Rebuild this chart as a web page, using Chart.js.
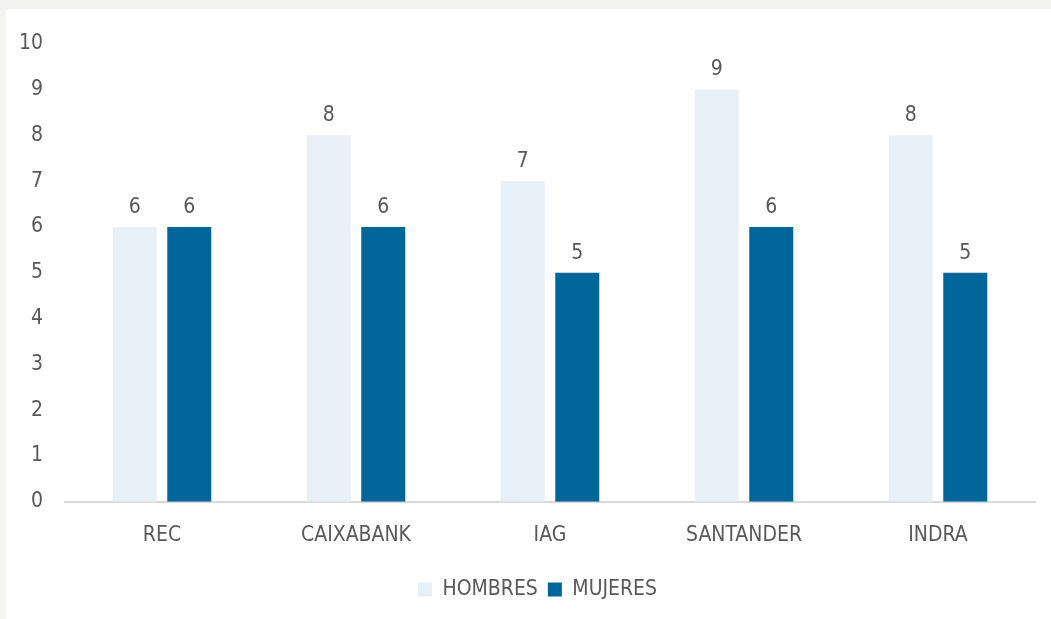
<!DOCTYPE html>
<html lang="es">
<head>
    <meta charset="UTF-8">
    <title>Hombres y mujeres</title>
    <script src="https://cdn.jsdelivr.net/npm/chart.js@4.4.1/dist/chart.umd.min.js"></script>
    <style>
        body {
            margin: 0;
            background-color: #f3f4f0;
            width: 1051px;
            height: 619px;
            overflow: hidden;
        }
        #box {
            position: absolute;
            left: 6px;
            top: 9px;
            width: 1045px;
            height: 610px;
            background-color: #fff;
        }
    </style>
</head>
<body>
<div id="box"><canvas id="myChart" width="1045" height="610"></canvas></div>
<script>
    const categories = ["REC", "CAIXABANK", "IAG", "SANTANDER", "INDRA"];
    const hombres = [6, 8, 7, 9, 8];
    const mujeres = [6, 6, 5, 6, 5];
    const yTicks = [0, 1, 2, 3, 4, 5, 6, 7, 8, 9, 10];

    const fontFamily = "'Liberation Sans Narrow', 'DejaVu Sans Condensed', sans-serif";
    const textColor = '#595959';

    // etiquetas encima de cada barra
    const valueLabels = {
        id: 'valueLabels',
        afterLayout(chart) {
            // la leyenda va un poco a la derecha del centro
            chart.legend.left += 17;
            chart.legend.right += 17;
        },
        afterDatasetsDraw(chart) {
            const ctx = chart.ctx;
            ctx.save();
            ctx.font = '21px ' + fontFamily;
            ctx.fillStyle = textColor;
            ctx.textAlign = 'center';
            ctx.textBaseline = 'bottom';
            chart.data.datasets.forEach((ds, i) => {
                chart.getDatasetMeta(i).data.forEach((bar, j) => {
                    ctx.fillText(ds.data[j], bar.x, bar.y - 9);
                });
            });
            ctx.restore();
        }
    };

    new Chart(document.getElementById('myChart'), {
        type: 'bar',
        data: {
            labels: categories,
            datasets: [
                { label: 'HOMBRES', data: hombres, backgroundColor: '#e8f0f7' },
                { label: 'MUJERES', data: mujeres, backgroundColor: '#006699' }
            ]
        },
        options: {
            responsive: false,
            animation: false,
            devicePixelRatio: 1,
            datasets: {
                bar: { categoryPercentage: 0.562, barPercentage: 0.807 }
            },
            layout: { padding: { top: 31, right: 16, bottom: 9, left: 0 } },
            scales: {
                x: {
                    grid: { display: false, drawTicks: false },
                    border: { color: '#d9d9d9', width: 2 },
                    ticks: { color: textColor, font: { family: fontFamily, size: 21 }, padding: 21 }
                },
                y: {
                    min: 0,
                    max: 10,
                    afterBuildTicks(scale) {
                        scale.ticks = yTicks.map(v => ({ value: v }));
                    },
                    afterFit(scale) { scale.width = 59; },
                    grid: { display: false, drawTicks: false },
                    border: { display: false },
                    ticks: { color: textColor, font: { family: fontFamily, size: 21 }, padding: 22 }
                }
            },
            plugins: {
                legend: {
                    position: 'bottom',
                    labels: {
                        color: textColor,
                        font: { family: fontFamily, size: 21 },
                        boxWidth: 14,
                        boxHeight: 14,
                        padding: 10
                    }
                },
                tooltip: { enabled: false }
            }
        },
        plugins: [valueLabels]
    });
</script>
</body>
</html>
